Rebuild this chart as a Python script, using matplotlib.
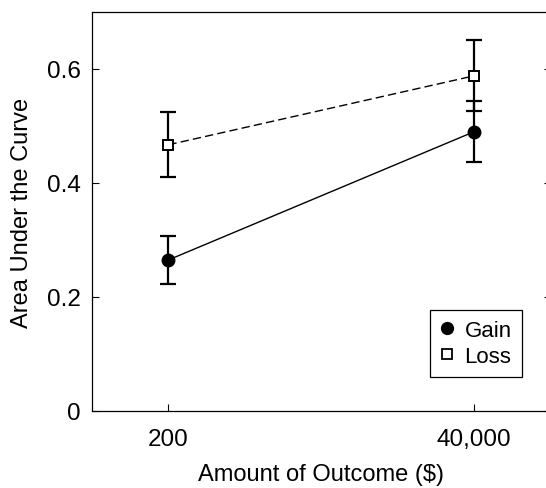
import matplotlib
matplotlib.use("Agg")
import matplotlib.pyplot as plt
from matplotlib.lines import Line2D

plt.rcParams["font.family"] = ["Liberation Sans", "DejaVu Sans"]

outcomes = ["200", "40,000"]
gain = [0.265, 0.490]
gain_err = [0.042, 0.053]
loss = [0.467, 0.588]
loss_err = [0.057, 0.062]

fig = plt.figure(figsize=(5.46, 4.89), dpi=100)
ax = fig.add_axes([0.1685, 0.1575, 0.84, 0.816])

x = list(range(len(outcomes)))

ax.plot(x, gain, color="black", linewidth=1.0, linestyle="-", zorder=2)
ax.plot(x, loss, color="black", linewidth=1.0, linestyle=(0, (6, 3)), zorder=2)
ax.errorbar(x, gain, yerr=gain_err, fmt="none", ecolor="black",
            elinewidth=1.6, capsize=5.5, capthick=1.6, zorder=3)
ax.errorbar(x, loss, yerr=loss_err, fmt="none", ecolor="black",
            elinewidth=1.6, capsize=5.5, capthick=1.6, zorder=3)
ax.plot(x, gain, linestyle="none", marker="o", markersize=9,
        markerfacecolor="black", markeredgecolor="black", zorder=4)
ax.plot(x, loss, linestyle="none", marker="s", markersize=7.5,
        markerfacecolor="white", markeredgecolor="black",
        markeredgewidth=1.4, zorder=4)

ax.set_xlim(-0.25, 1.25)
ax.set_ylim(0, 0.7)
ax.set_xticks(x)
ax.set_xticklabels(outcomes)
ax.set_yticks([0, 0.2, 0.4, 0.6])
ax.set_yticklabels(["0", "0.2", "0.4", "0.6"])

ax.tick_params(axis="both", direction="in", length=5, width=0.8,
               labelsize=17.5, right=True)
ax.tick_params(axis="x", pad=12.5)
ax.tick_params(axis="y", pad=8)
for s in ax.spines.values():
    s.set_linewidth(0.9)

ax.set_xlabel("Amount of Outcome ($)", fontsize=17, labelpad=9)
ax.set_ylabel("Area Under the Curve", fontsize=17, labelpad=10)

handles = [
    Line2D([], [], linestyle="none", marker="o", markersize=8.5,
           markerfacecolor="black", markeredgecolor="black"),
    Line2D([], [], linestyle="none", marker="s", markersize=7,
           markerfacecolor="white", markeredgecolor="black", markeredgewidth=1.3),
]
leg = ax.legend(handles, ["Gain", "Loss"], loc="lower left",
                bbox_to_anchor=(0.737, 0.085), borderaxespad=0,
                fontsize=16, frameon=True,
                fancybox=False, edgecolor="black", framealpha=1,
                handlelength=0.6, handletextpad=0.5, borderpad=0.45,
                labelspacing=0.25)
leg.get_frame().set_linewidth(0.9)

fig.savefig("out.png", dpi=100)
